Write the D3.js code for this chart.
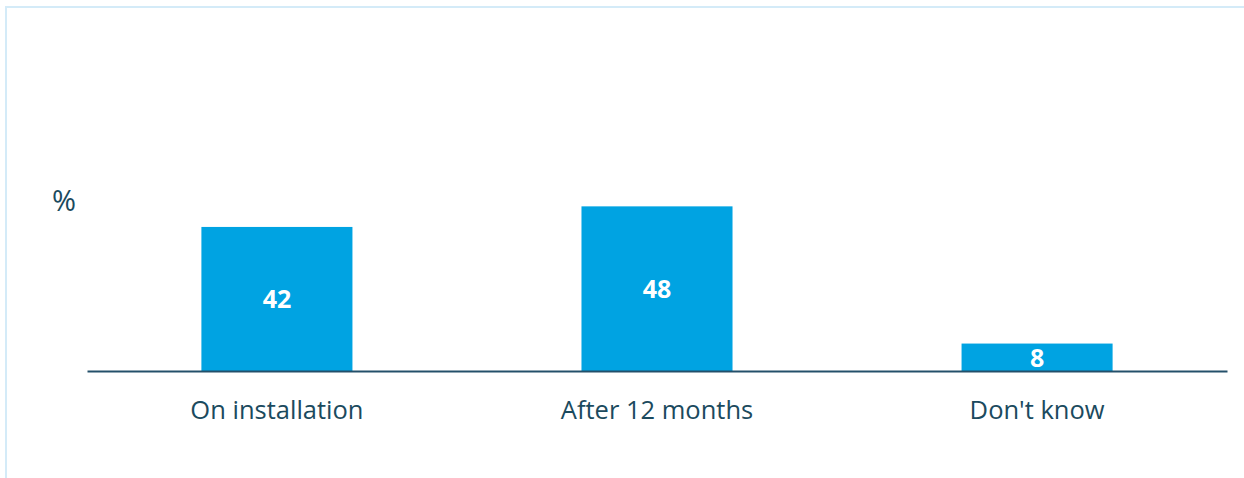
<!DOCTYPE html>
<html><head><meta charset="utf-8">
<script src="https://cdn.jsdelivr.net/npm/d3@7"></script>
<style>html,body{margin:0;padding:0;background:#fff;overflow:hidden}</style>
</head><body>
<svg id="chart" width="1244" height="478"></svg>
<script>
const categories = ["On installation", "After 12 months", "Don't know"];
const values = [42, 48, 8];
const unitLabel = "%";

const svg = d3.select("#chart");
const W = 1244, H = 478;
const font = "'Open Sans', 'Segoe UI', sans-serif";
const textColor = "#1b4a5e";

// frame (top and left visible)
svg.append("rect").attr("x", 6).attr("y", 7).attr("width", W + 20).attr("height", H + 20)
  .attr("fill", "none").attr("stroke", "#d4ebf8").attr("stroke-width", 2);

const baseY = 371;
const x = d3.scaleBand().domain(categories).range([87, 1227]).paddingInner(0.6026).paddingOuter(0.301);
const y = d3.scaleLinear().domain([0, 100]).range([baseY, baseY - 343]);

svg.selectAll("rect.bar").data(values).enter().append("rect")
  .attr("class", "bar")
  .attr("x", (d, i) => x(categories[i]))
  .attr("y", d => y(d))
  .attr("width", x.bandwidth())
  .attr("height", d => y(0) - y(d))
  .attr("fill", "#00a3e2");

svg.selectAll("text.val").data(values).enter().append("text")
  .attr("class", "val")
  .attr("x", (d, i) => x(categories[i]) + x.bandwidth() / 2)
  .attr("y", d => (y(d) + y(0)) / 2)
  .attr("dy", "0.38em")
  .attr("text-anchor", "middle")
  .attr("font-family", font).attr("font-weight", "bold").attr("font-size", 25)
  .attr("fill", "#fff")
  .text(d => d);

// baseline axis
const axis = d3.axisBottom(x).tickSize(0).tickPadding(30);
const g = svg.append("g").attr("transform", `translate(0,${baseY})`).call(axis);
g.select(".domain").attr("stroke", "#24506a").attr("stroke-width", 2);
g.selectAll("text").attr("font-family", font).attr("font-size", 25.5).attr("fill", textColor);

svg.append("text").attr("x", 52).attr("y", 211)
  .attr("font-family", font).attr("font-size", 29).attr("fill", textColor)
  .text(unitLabel);
</script>
</body></html>
